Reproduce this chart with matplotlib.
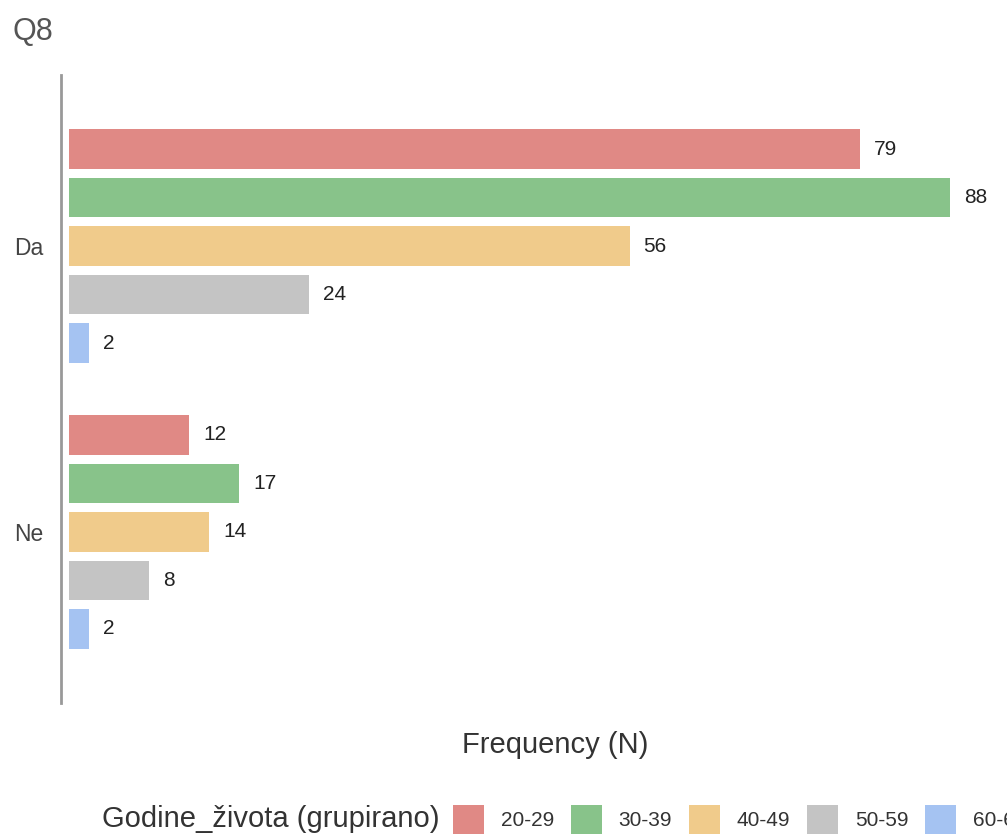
import matplotlib
matplotlib.use("Agg")
import matplotlib.pyplot as plt
from matplotlib.patches import Patch
import numpy as np

plt.rcParams['font.family'] = ['Liberation Sans', 'DejaVu Sans']

# data
answers = ["Da", "Ne"]
age_groups = ["20-29", "30-39", "40-49", "50-59", "60-69"]
counts_20_29 = [79, 12]
counts_30_39 = [88, 17]
counts_40_49 = [56, 14]
counts_50_59 = [24, 8]
counts_60_69 = [2, 2]
series = [counts_20_29, counts_30_39, counts_40_49, counts_50_59, counts_60_69]
colors = ["#e08985", "#88c38a", "#f0cb8b", "#c4c4c4", "#a5c3f2"]

W, H = 1007, 836
fig = plt.figure(figsize=(W / 100, H / 100), dpi=100)
ax = fig.add_axes([61 / W, 1 - 703 / H, (W - 61) / W, (703 - 75) / H])

y = np.arange(len(answers))
pitch = 0.1696
bar_h = 0.138
for i, (vals, col) in enumerate(zip(series, colors)):
    pos = y + (i - 2) * pitch
    bars = ax.barh(pos, vals, height=bar_h, color=col, label=age_groups[i])
    for b, v in zip(bars, vals):
        ax.annotate(str(v), (b.get_width(), b.get_y() + b.get_height() / 2),
                    xytext=(10, 0), textcoords="offset points",
                    va="center", ha="left", fontsize=15, color="#222222")

ax.set_xlim(-0.8, 93.7)
ax.set_ylim(1.598, -0.598)
ax.set_yticks(y)
ax.set_yticklabels(answers, fontsize=16.5, color="#444444")
ax.tick_params(axis="y", length=0, pad=13)
ax.set_xticks([])
for s in ["top", "right", "bottom"]:
    ax.spines[s].set_visible(False)
ax.spines["left"].set_color("#999999")
ax.spines["left"].set_linewidth(2)

fig.text(12 / W, 1 - 32 / H, "Q8", fontsize=22, color="#555555", va="center", ha="left")
fig.text(555 / W, 1 - 745 / H, "Frequency (N)", fontsize=21, color="#333333",
         va="center", ha="center")

# legend along the bottom
fig.text(440 / W, 1 - 827 / H, "Godine_života (grupirano)", fontsize=21,
         color="#333333", va="baseline", ha="right")
handles = [Patch(facecolor=c, edgecolor="none") for c in colors]
fig.legend(handles, age_groups, loc="upper left", bbox_to_anchor=(453 / W, 1 - 805 / H),
           ncol=5, frameon=False, fontsize=15, borderpad=0, borderaxespad=0,
           handlelength=1.5, handleheight=1.8, handletextpad=0.8, columnspacing=0.8,
           labelcolor="#333333")

fig.savefig("out.png", dpi=100)
